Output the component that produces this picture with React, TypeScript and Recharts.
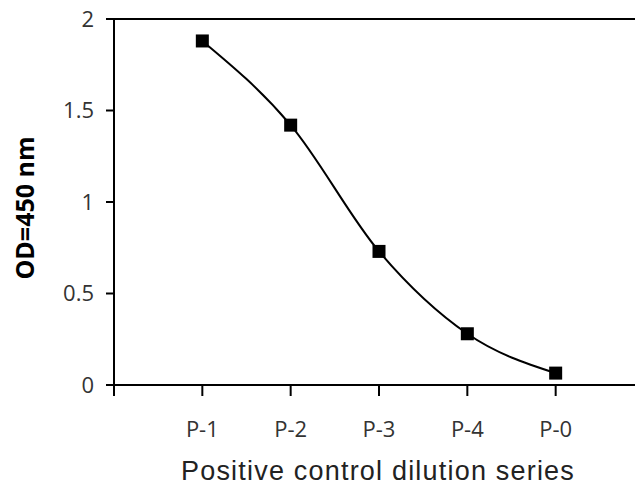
import { Label, Line, LineChart, ReferenceLine, XAxis, YAxis } from "recharts";

const CATEGORIES = ["P-1", "P-2", "P-3", "P-4", "P-0"];
const OD_VALUES = [1.88, 1.42, 0.73, 0.28, 0.065];
const X_TICKS = [0, 1, 2, 3, 4, 5];
const Y_TICKS = [0, 0.5, 1, 1.5, 2];

const data = CATEGORIES.map((name, i) => ({ pos: i + 1, name, od: OD_VALUES[i] }));

const TICK_FONT = "'Open Sans', sans-serif";

function SquareDot(props: any) {
  const { cx, cy, index } = props;
  if (cx == null || cy == null) return null;
  return <rect key={`dot-${index}`} x={cx - 6.5} y={cy - 6.5} width={13} height={13} fill="#000" />;
}

function XTick(props: any) {
  const { x, payload } = props;
  const label = CATEGORIES[payload.value - 1];
  if (!label) return null;
  return (
    <text x={x} y={437} textAnchor="middle" fontFamily={TICK_FONT} fontSize={22} fill="#333">
      {label}
    </text>
  );
}

function YTick(props: any) {
  const { y, payload } = props;
  return (
    <text x={94} y={y} dy="0.36em" textAnchor="end" fontFamily={TICK_FONT} fontSize={22} fill="#333">
      {payload.value}
    </text>
  );
}

export default function App() {
  return (
    <div
      style={{
        position: "fixed",
        left: 0,
        top: 0,
        width: 635,
        height: 489,
        overflow: "hidden",
        background: "#fff",
      }}
    >
      <LineChart
        width={644}
        height={489}
        data={data}
        margin={{ top: 19, right: 0, left: 0, bottom: 0 }}
      >
        <XAxis
          dataKey="pos"
          type="number"
          domain={[0, 6]}
          ticks={X_TICKS}
          height={104}
          tickSize={11}
          tick={XTick}
          axisLine={{ stroke: "#000", strokeWidth: 2 }}
          tickLine={{ stroke: "#000", strokeWidth: 2 }}
        >
          <Label
            content={() => (
              <text
                x={378}
                y={480}
                textAnchor="middle"
                fontFamily="'Liberation Sans', Arial, sans-serif"
                fontSize={27}
                letterSpacing={1.2}
                fill="#222"
              >
                Positive control dilution series
              </text>
            )}
          />
        </XAxis>
        <YAxis
          domain={[0, 2]}
          ticks={Y_TICKS}
          width={114}
          tickSize={8}
          tick={YTick}
          axisLine={{ stroke: "#000", strokeWidth: 2 }}
          tickLine={{ stroke: "#000", strokeWidth: 2 }}
        >
          <Label
            content={() => (
              <text
                x={34}
                y={208}
                textAnchor="middle"
                transform="rotate(-90 34 208)"
                fontFamily="'Open Sans', sans-serif"
                fontWeight={700}
                fontSize={25}
                fill="#000"
              >
                OD=450 nm
              </text>
            )}
          />
        </YAxis>
        <ReferenceLine y={2} stroke="#000" strokeWidth={2} />
        <Line
          type="monotone"
          dataKey="od"
          stroke="#000"
          strokeWidth={2}
          dot={SquareDot}
          activeDot={false}
          isAnimationActive={false}
        />
      </LineChart>
    </div>
  );
}
